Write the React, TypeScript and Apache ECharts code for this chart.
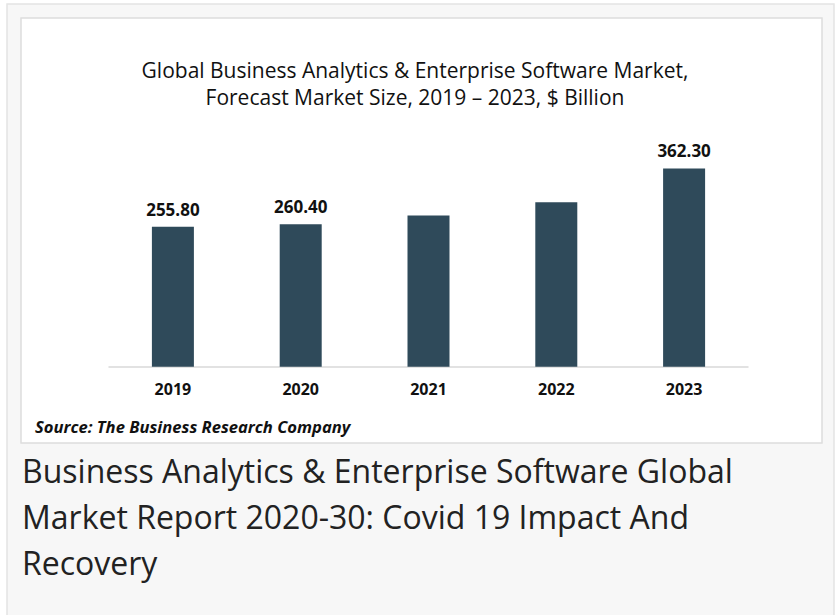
import React, { useEffect, useRef } from "react";
import * as echarts from "echarts";

const categories = ["2019", "2020", "2021", "2022", "2023"];
const values = [255.8, 260.4, 276.3, 300.6, 362.3];
const labeledYears = ["2019", "2020", "2023"];
const titleLines = [
  "Global Business Analytics & Enterprise Software Market,",
  "Forecast Market Size, 2019 – 2023, $ Billion",
];
const sourceText = "Source: The Business Research Company";
const captionLines = [
  "Business Analytics & Enterprise Software Global",
  "Market Report 2020-30: Covid 19 Impact And",
  "Recovery",
];

export default function App() {
  const ref = useRef<HTMLDivElement>(null);
  useEffect(() => {
    if (!ref.current) return;
    const chart = echarts.init(ref.current, null, { renderer: "svg" });
    chart.setOption({
      animation: false,
      backgroundColor: "#ffffff",
      graphic: [
        {
          type: "rect",
          z: -10,
          shape: { x: 7, y: 4, width: 827, height: 630 },
          style: { fill: "#f7f7f7", stroke: "#e4e4e4", lineWidth: 1.5 },
          silent: true,
        },
        {
          type: "rect",
          z: -9,
          shape: { x: 21, y: 18, width: 801, height: 425 },
          style: { fill: "#ffffff", stroke: "#dddddd", lineWidth: 1.5 },
          silent: true,
        },
        ...titleLines.map((t, i) => ({
          type: "text",
          x: 415,
          y: 70 + i * 27,
          style: {
            text: t,
            fontFamily: "Open Sans",
            fontSize: 21,
            fill: "#111111",
            align: "center",
            verticalAlign: "middle",
          },
        })),
        {
          type: "text",
          x: 35,
          y: 426,
          style: {
            text: sourceText,
            fontFamily: "Open Sans",
            fontSize: 16.6,
            fontWeight: "bold",
            fontStyle: "italic",
            fill: "#111111",
            align: "left",
            verticalAlign: "middle",
          },
        },
        ...captionLines.map((t, i) => ({
          type: "text",
          x: 22,
          y: 470 + i * 46,
          style: {
            text: t,
            fontFamily: "Open Sans",
            fontSize: 32,
            fill: "#222222",
            align: "left",
            verticalAlign: "middle",
          },
        })),
      ],
      grid: { left: 109, right: 88, top: 147.8, bottom: 248.3 },
      xAxis: {
        type: "category",
        data: categories,
        axisLine: { show: true, lineStyle: { color: "#d9d9d9", width: 1.5 } },
        axisTick: { show: false },
        axisLabel: {
          margin: 14,
          fontFamily: "Open Sans",
          fontSize: 16,
          fontWeight: "bold",
          color: "#111111",
        },
      },
      yAxis: {
        type: "value",
        min: 0,
        max: 400,
        show: false,
        splitLine: { show: false },
      },
      series: [
        {
          type: "bar",
          barWidth: 42,
          itemStyle: { color: "#2F4A5A" },
          data: values.map((v, i) => ({
            value: v,
            label: { show: labeledYears.includes(categories[i]) },
          })),
          label: {
            show: true,
            position: "top",
            distance: 9,
            formatter: (p: any) => Number(p.value).toFixed(2),
            fontFamily: "Open Sans",
            fontSize: 17,
            fontWeight: "bold",
            color: "#111111",
          },
        },
      ],
    });
    return () => chart.dispose();
  }, []);
  return (
    <div
      ref={ref}
      style={{ position: "fixed", left: 0, top: 0, width: 836, height: 615 }}
    />
  );
}
